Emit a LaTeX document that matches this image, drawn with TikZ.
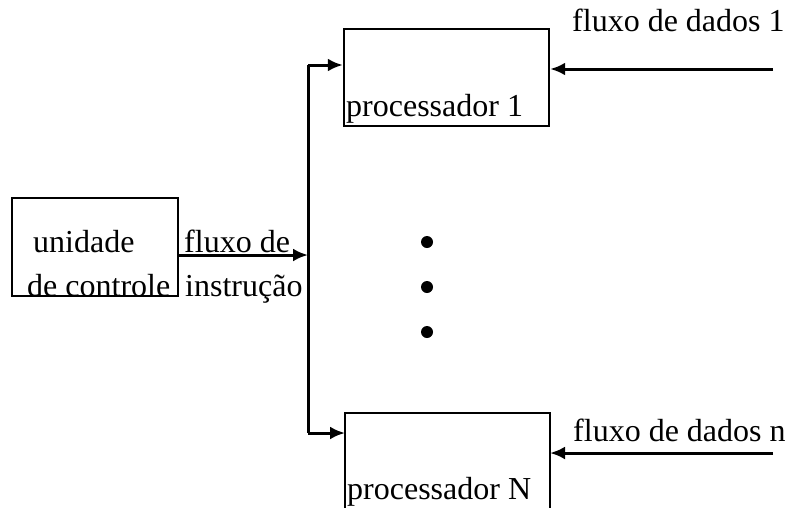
\documentclass[tikz,border=0pt]{standalone}
\usepackage{fontspec}
\setmainfont{Liberation Serif}
\usetikzlibrary{arrows.meta}
\begin{document}
\begin{tikzpicture}[x=1pt,y=-1pt,
  box/.style={draw,line width=2.4pt,rectangle,inner sep=0pt},
  flow/.style={line width=3pt,-{Latex[length=15pt,width=13pt]}},
  lbl/.style={anchor=base west,inner sep=0pt,font=\fontsize{32}{36}\selectfont},
  dot/.style={circle,fill,inner sep=0pt,minimum size=12pt}]
\useasboundingbox (0,0) rectangle (787,507);

% control unit
\node[box,minimum width=166pt,minimum height=98pt] (ctrl) at (95,247) {};
\node[lbl] (t1) at (33,252) {unidade};
\node[lbl] (t2) at (27,296) {de controle};

% processor 1
\node[box,minimum width=205pt,minimum height=97pt] (p1) at (446.5,77.5) {};
\node[lbl] (t3) at (346,116) {processador 1};

% processor N (runs off the lower edge)
\coordinate (pNtl) at (345,413);
\coordinate (pNtr) at (550,413);
\draw[line width=2.4pt] (345,510) -- (pNtl) -- (pNtr) -- (550,510);
\node[lbl] (t4) at (347,499) {processador N};

% instruction bus
\coordinate (busIn) at (308,255);
\coordinate (busTop) at (308,65);
\coordinate (busBot) at (308,433);
\coordinate (pNin) at (345,433);
\draw[flow] (ctrl.east |- busIn) -- (busIn);
\draw[line width=3pt] (busTop) -- (busBot);
\draw[flow] (busTop) -- (p1.west |- busTop);
\draw[flow] (busBot) -- (pNin);
\node[lbl] (t5) at (184,252) {fluxo de};
\node[lbl] (t6) at (185,296) {instrução};

% data streams
\coordinate (d1) at (773,69);
\coordinate (dn) at (773,453);
\draw[flow] (d1) -- (p1.east |- d1);
\draw[flow] (dn) -- (550,453);
\node[lbl] (t7) at (572,31) {fluxo de dados 1};
\node[lbl] (t8) at (573,441) {fluxo de dados n};

% ellipsis
\node[dot] (e1) at (427,242) {};
\node[dot] (e2) at (427,287) {};
\node[dot] (e3) at (427,332) {};
\end{tikzpicture}
\end{document}
